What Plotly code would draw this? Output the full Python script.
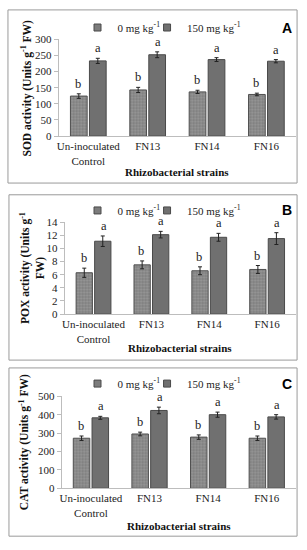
import plotly.graph_objects as go

categories = ["Un-inoculated<br>Control", "FN13", "FN14", "FN16"]
series_names = ["0 mg kg<sup>-1</sup>", "150 mg kg<sup>-1</sup>"]

sod_0 = [124, 143, 137, 129]
sod_0_err = [7, 8, 5, 4]
sod_150 = [233, 252, 237, 232]
sod_150_err = [8, 9, 6, 5]

pox_0 = [6.3, 7.5, 6.6, 6.8]
pox_0_err = [0.7, 0.6, 0.6, 0.6]
pox_150 = [11.1, 12.1, 11.7, 11.5]
pox_150_err = [0.8, 0.5, 0.6, 0.9]

cat_0 = [272, 295, 278, 272]
cat_0_err = [12, 10, 12, 12]
cat_150 = [383, 423, 400, 388]
cat_150_err = [8, 18, 14, 12]

letters_0 = ["b", "b", "b", "b"]
letters_150 = ["a", "a", "a", "a"]

y_titles = ["SOD activity (Units g<sup>-1</sup> FW)",
            "POX activity (Units g<sup>-1</sup><br>FW)",
            "CAT activity (Units g<sup>-1</sup> FW)"]
panel_labels = ["A", "B", "C"]
y_ranges = [[0, 300], [0, 14], [0, 500]]
y_dticks = [50, 2, 100]

W, H = 307, 550
SERIF = "Liberation Serif, Times New Roman, serif"

PAT_BG = "#7c7c7c"
PAT_FG = "#b8b8b8"
SOLID = "#707070"

# layout geometry in pixels (top-down)
panels = [
    dict(x0=57, x1=296, ytop=34, ybot=133, box=(6, 4, 297, 181), leg=22, tick_title=170, ytx=25),
    dict(x0=63, x1=296, ytop=221, ybot=315, box=(7, 193, 297, 362), leg=209, tick_title=350, ytx=31),
    dict(x0=60, x1=296, ytop=399, ybot=493, box=(7, 370, 297, 542), leg=386, tick_title=532, ytx=22),
]
legend_text_x = [113, 183]  # pixel x where each legend entry's text starts

data = [
    (sod_0, sod_0_err, sod_150, sod_150_err),
    (pox_0, pox_0_err, pox_150, pox_150_err),
    (cat_0, cat_0_err, cat_150, cat_150_err),
]

fig = go.Figure()
annotations = []
shapes = []
layout = {}

for i, (p, (v0, e0, v1, e1)) in enumerate(zip(panels, data)):
    n = "" if i == 0 else str(i + 1)
    xa, ya = "x" + n, "y" + n
    fig.add_trace(go.Bar(
        x=categories, y=v0, name=series_names[0], xaxis=xa, yaxis=ya, showlegend=False,
        offsetgroup="0",
        marker=dict(color=PAT_BG, line=dict(color="#4f4f4f", width=1),
                    pattern=dict(shape=".", fgcolor=PAT_FG, bgcolor=PAT_BG, size=3, solidity=0.45)),
        error_y=dict(type="data", array=e0, color="#222222", thickness=1, width=2),
    ))
    fig.add_trace(go.Bar(
        x=categories, y=v1, name=series_names[1], xaxis=xa, yaxis=ya, showlegend=False,
        offsetgroup="1",
        marker=dict(color=SOLID, line=dict(color="#4a4a4a", width=1)),
        error_y=dict(type="data", array=e1, color="#222222", thickness=1, width=2),
    ))
    # legend keys: one single-entry legend per series so each can be placed
    for k, (name, col) in enumerate(zip(series_names, [PAT_BG, SOLID])):
        leg_id = "legend" + ("" if (i == 0 and k == 0) else str(2 * i + k + 1))
        fig.add_trace(go.Scatter(
            x=[None], y=[None], mode="markers", name=name, xaxis=xa, yaxis=ya, legend=leg_id,
            marker=dict(symbol="square", size=7, color=col, line=dict(color="#4a4a4a", width=1)),
        ))
        layout[leg_id] = dict(
            orientation="h", x=(legend_text_x[k] - 37) / W, xanchor="left",
            y=1 - p["leg"] / H, yanchor="middle",
            font=dict(family=SERIF, size=11, color="#222"), bgcolor="rgba(0,0,0,0)",
            itemwidth=30,
        )
    layout["xaxis" + n] = dict(
        domain=[p["x0"] / W, p["x1"] / W], anchor=ya, showline=True, linecolor="#bdbdbd",
        linewidth=1, ticks="", tickfont=dict(family=SERIF, size=11, color="#222"),
        fixedrange=True,
    )
    layout["yaxis" + n] = dict(
        domain=[1 - p["ybot"] / H, 1 - p["ytop"] / H], anchor=xa, range=y_ranges[i],
        dtick=y_dticks[i], showline=True, linecolor="#bdbdbd", ticks="outside", ticklen=4,
        tickcolor="#bdbdbd", showgrid=False, zeroline=False,
        tickfont=dict(family=SERIF, size=11, color="#222"),
    )
    # letters above bars
    for j, c in enumerate(categories):
        annotations.append(dict(x=c, y=v0[j] + e0[j], xref=xa, yref=ya, text=letters_0[j],
                                showarrow=False, xshift=-10, yanchor="bottom", yshift=1,
                                font=dict(family=SERIF, size=12.5, color="#222")))
        annotations.append(dict(x=c, y=v1[j] + e1[j], xref=xa, yref=ya, text=letters_150[j],
                                showarrow=False, xshift=10, yanchor="bottom", yshift=1,
                                font=dict(family=SERIF, size=12.5, color="#222")))
    # x title
    annotations.append(dict(x=(p["x0"] + p["x1"]) / 2 / W, y=1 - p["tick_title"] / H,
                            xref="paper", yref="paper", text="<b>Rhizobacterial strains</b>",
                            showarrow=False, xanchor="center", yanchor="middle",
                            font=dict(family=SERIF, size=11, color="#111")))
    # y title
    annotations.append(dict(x=p["ytx"] / W, y=1 - (p["ytop"] + p["ybot"]) / 2 / H,
                            xref="paper", yref="paper", text="<b>" + y_titles[i] + "</b>",
                            textangle=-90, showarrow=False, xanchor="center", yanchor="middle",
                            font=dict(family=SERIF, size=11.5, color="#111")))
    # panel letter
    annotations.append(dict(x=287 / W, y=1 - p["leg"] / H, xref="paper", yref="paper",
                            text="<b>" + panel_labels[i] + "</b>", showarrow=False,
                            xanchor="center", yanchor="middle",
                            font=dict(family="Liberation Sans, Arial, sans-serif", size=14, color="#000")))
    bx0, by0, bx1, by1 = p["box"]
    shapes.append(dict(type="rect", xref="paper", yref="paper", x0=bx0 / W, x1=bx1 / W,
                       y0=1 - by1 / H, y1=1 - by0 / H, line=dict(color="#9a9a9a", width=1)))

fig.update_layout(
    width=W, height=H, margin=dict(l=0, r=0, t=0, b=0),
    paper_bgcolor="white", plot_bgcolor="white",
    barmode="group", bargap=0.36, bargroupgap=0.12,
    annotations=annotations, shapes=shapes, **layout,
)

fig.write_html("out.html", config={"displayModeBar": False},
               post_script="document.body.style.margin='0';document.body.style.overflow='hidden';")
